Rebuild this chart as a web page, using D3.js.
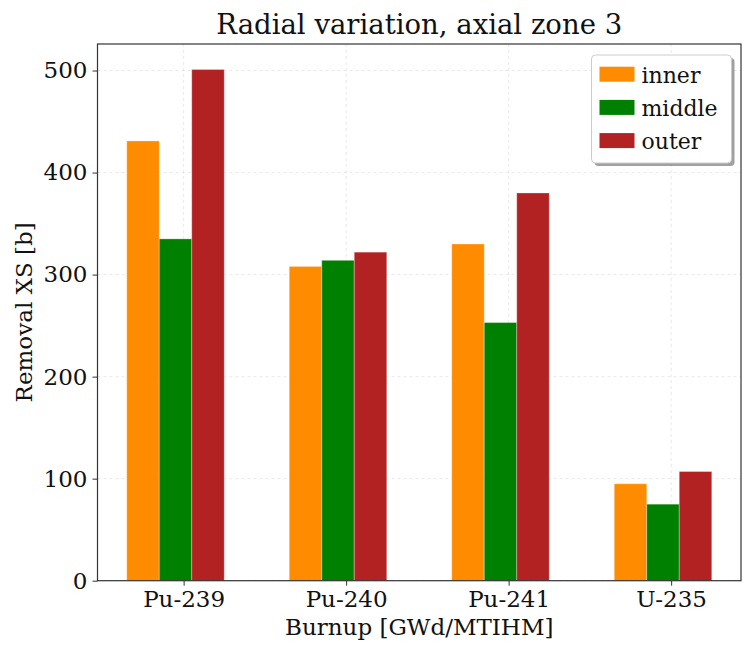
<!DOCTYPE html>
<html>
<head>
<meta charset="utf-8">
<script src="https://cdn.jsdelivr.net/npm/d3@7"></script>
<style>
  html, body { margin: 0; padding: 0; background: #fff; }
  svg { display: block; font-family: "DejaVu Serif", serif; }
</style>
</head>
<body>
<svg id="chart" width="745" height="649"></svg>
<script>
// Removal cross sections by nuclide, one series per radial zone
const nuclides = ["Pu-239", "Pu-240", "Pu-241", "U-235"];
const zones = ["inner", "middle", "outer"];
const innerXS = [431, 308, 330, 95];
const middleXS = [335, 314, 253, 75];
const outerXS = [501, 322, 380, 107];
const yTicks = [0, 100, 200, 300, 400, 500];
const zoneColors = ["#ff8c00", "#008000", "#b22222"];

const series = [innerXS, middleXS, outerXS];
const barWidth = 0.2;
const barOffsets = [-0.25, -0.05, 0.15];

const svg = d3.select("#chart");
const margin = { left: 97.5, right: 741, top: 44, bottom: 580.7 };

const x = d3.scaleLinear().domain([-0.53, 3.43]).range([margin.left, margin.right]);
const y = d3.scaleLinear().domain([0, 526]).range([margin.bottom, margin.top]);

// grid
const grid = svg.append("g");
grid.selectAll("line.gy").data(yTicks).join("line")
  .attr("x1", margin.left).attr("x2", margin.right)
  .attr("y1", d => y(d)).attr("y2", d => y(d))
  .attr("stroke", "#b0b0b0").attr("stroke-opacity", 0.35)
  .attr("stroke-width", 0.8).attr("stroke-dasharray", "3,3");
grid.selectAll("line.gx").data(nuclides).join("line")
  .attr("x1", (d, i) => x(i)).attr("x2", (d, i) => x(i))
  .attr("y1", margin.top).attr("y2", margin.bottom)
  .attr("stroke", "#b0b0b0").attr("stroke-opacity", 0.35)
  .attr("stroke-width", 0.8).attr("stroke-dasharray", "3,3");

// bars
series.forEach((vals, s) => {
  svg.append("g").selectAll("rect").data(vals).join("rect")
    .attr("x", (d, i) => x(i + barOffsets[s] - barWidth / 2))
    .attr("width", x(barWidth) - x(0))
    .attr("y", d => y(d))
    .attr("height", d => y(0) - y(d))
    .attr("fill", zoneColors[s])
    .attr("stroke", "#ffffff").attr("stroke-opacity", 0.3).attr("stroke-width", 1);
});

// axes
const xAxis = d3.axisBottom(x).tickValues(d3.range(nuclides.length))
  .tickFormat(i => nuclides[i]).tickSize(5).tickPadding(5);
const yAxis = d3.axisLeft(y).tickValues(yTicks).tickSize(5).tickPadding(5);

const gx = svg.append("g").attr("transform", `translate(0,${margin.bottom})`).call(xAxis);
const gy = svg.append("g").attr("transform", `translate(${margin.left},0)`).call(yAxis);
[gx, gy].forEach(g => {
  g.select(".domain").remove();
  g.selectAll(".tick line").attr("stroke", "#333").attr("stroke-width", 1);
  g.selectAll(".tick text").attr("font-family", "DejaVu Serif").attr("font-size", 23).attr("fill", "#111");
});

// frame
svg.append("rect")
  .attr("x", margin.left).attr("y", margin.top)
  .attr("width", margin.right - margin.left).attr("height", margin.bottom - margin.top)
  .attr("fill", "none").attr("stroke", "#333").attr("stroke-width", 1.2);

// titles
svg.append("text").attr("x", (margin.left + margin.right) / 2).attr("y", 34.3)
  .attr("text-anchor", "middle").attr("font-size", 27.5).attr("fill", "#111")
  .text("Radial variation, axial zone 3");
svg.append("text").attr("x", (margin.left + margin.right) / 2).attr("y", 635)
  .attr("text-anchor", "middle").attr("font-size", 23).attr("fill", "#111")
  .text("Burnup [GWd/MTIHM]");
svg.append("text").attr("transform", `translate(32,${(margin.top + margin.bottom) / 2}) rotate(-90)`)
  .attr("text-anchor", "middle").attr("font-size", 23).attr("fill", "#111")
  .text("Removal XS [b]");

// legend
const lg = svg.append("g").attr("transform", "translate(591.5,55)");
lg.append("rect").attr("x", 3).attr("y", 3).attr("width", 140).attr("height", 108)
  .attr("rx", 4).attr("fill", "#888").attr("opacity", 0.8);
lg.append("rect").attr("width", 140).attr("height", 108).attr("rx", 4)
  .attr("fill", "#fff").attr("stroke", "#ccc").attr("stroke-width", 1);
zones.forEach((z, i) => {
  lg.append("rect").attr("x", 8).attr("y", 11.7 + i * 33.2).attr("width", 35).attr("height", 15)
    .attr("fill", zoneColors[i]);
  lg.append("text").attr("x", 50).attr("y", 27.5 + i * 33.2)
    .attr("font-size", 22).attr("fill", "#111").text(z);
});
</script>
</body>
</html>
